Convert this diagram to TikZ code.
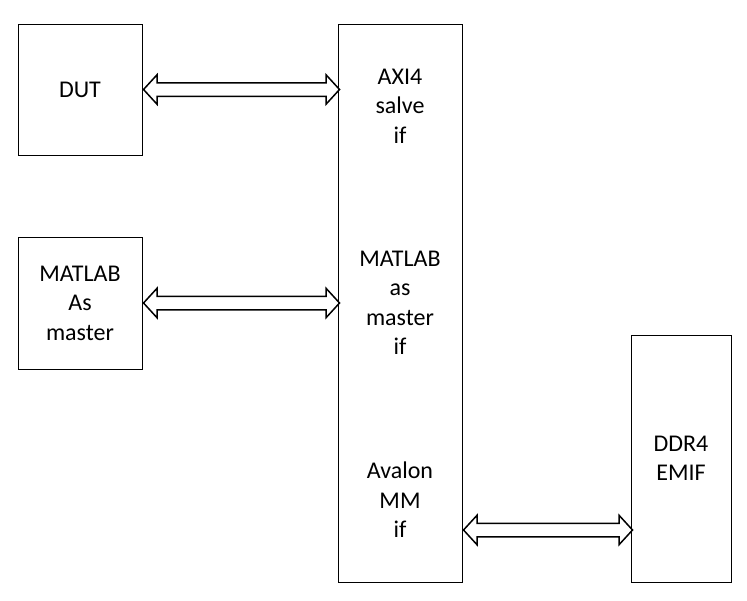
\documentclass[tikz,border=0pt]{standalone}
\usepackage{fontspec}
\setmainfont{Carlito}
\usetikzlibrary{shapes.arrows, positioning}

\tikzset{
  blk/.style={draw, line width=1pt, inner sep=0pt},
  lbl/.style={align=center, inner sep=0pt},
  bus/.style={draw, line width=1.5pt, double arrow, inner sep=6pt,
    text height=0pt, text depth=0pt, double arrow head extend=8pt,
    double arrow tip angle=95, anchor=west}
}

\begin{document}
\begin{tikzpicture}[x=1pt, y=1pt, font=\fontsize{24}{29.5}\selectfont]
  \useasboundingbox (0,0) rectangle (747,-600);

  \node[blk, minimum width=124pt, minimum height=558pt] (ifc) at (400,-303) {};
  \node[blk, minimum width=124pt, minimum height=131pt] (dut) at (80,-89.5) {};
  \node[blk, minimum width=124pt, minimum height=132pt] (mat) at (80,-303) {};
  \node[blk, minimum width=100pt, minimum height=247pt] (ddr) at (681,-458.5) {};

  % labels
  \node[lbl] (dutl) at (dut.center) {DUT};
  \node[lbl] (matl) at (mat.center) {MATLAB\\As\\master};
  \node[lbl] (ddrl) at (ddr.center) {DDR4\\EMIF};
  \node[lbl] (axi) at (400,-106) {AXI4\\salve\\if};
  \node[lbl] (mif) at (400,-303) {MATLAB\\as\\master\\if};
  \node[lbl] (avl) at (400,-500) {Avalon\\MM\\if};

  % buses
  \node[bus, minimum height=196pt] (b1) at (dut.east) {};
  \node[bus, minimum height=196pt] (b2) at (mat.east) {};
  \node[bus, minimum height=169pt] (b3) at (ifc.east |- 0,-530) {};
\end{tikzpicture}
\end{document}
